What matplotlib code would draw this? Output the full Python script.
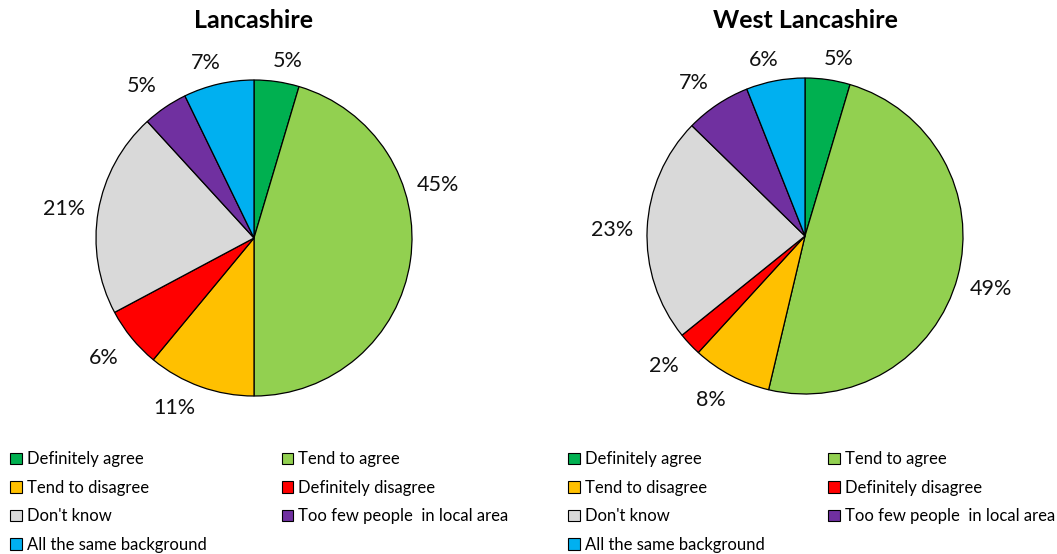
import numpy as np
import matplotlib.pyplot as plt
from matplotlib.patches import Patch

plt.rcParams['font.family'] = ['Lato', 'DejaVu Sans']

categories = ['Definitely agree', 'Tend to agree', 'Tend to disagree', 'Definitely disagree',
              "Don't know", 'Too few people  in local area', 'All the same background']
colors = ['#00B050', '#92D050', '#FFC000', '#FF0000', '#D9D9D9', '#7030A0', '#00B0F0']

lancs_values = [4.6, 45.4, 11.0, 6.2, 21.0, 4.6, 7.2]
west_values = [4.6, 49.1, 8.1, 2.4, 23.1, 6.7, 6.0]

titles = ['Lancashire', 'West Lancashire']

W, H = 1057, 554
fig = plt.figure(figsize=(W / 100, H / 100), dpi=100)


def pix_axes(cx, cy, r):
    # axes box in pixels -> figure fraction
    return fig.add_axes([(cx - r) / W, (H - cy - r) / H, 2 * r / W, 2 * r / H])


def draw_pie(ax, values, title, tx, moved=None):
    wedges, texts = ax.pie(values, colors=colors, startangle=90, counterclock=False,
                           labels=['%d%%' % round(v) for v in values],
                           wedgeprops=dict(edgecolor='black', linewidth=0.9),
                           textprops=dict(fontsize=15.5, color='#111111'))
    # place labels like excel: a bit further out at the sides
    for i, (w, t) in enumerate(zip(wedges, texts)):
        ang = np.deg2rad((w.theta1 + w.theta2) / 2)
        if moved and i in moved:
            ang = np.deg2rad(moved[i])
        c, s = np.cos(ang), np.sin(ang)
        d = 1.14 + 0.08 * abs(c)
        if abs(c) < 0.7:
            xoff = 0.045
        elif abs(c) < 0.9:
            xoff = 0.02
        else:
            xoff = 0.0
        yoff = -0.02 if s > -0.3 else 0.0
        t.set_position((d * c + np.sign(c) * xoff, d * s + yoff))
        t.set_ha('center')
        t.set_va('center')
    ax.set_xlim(-1, 1)
    ax.set_ylim(-1, 1)
    ax.set_aspect('equal')
    fig.text(tx / W, 1 - 20 / H, title, ha='center', va='center', fontsize=18, fontweight='bold')
    return wedges


ax1 = pix_axes(254, 238, 158)
draw_pie(ax1, lancs_values, titles[0], 254, moved={1: 17, 2: -113})
ax2 = pix_axes(805, 236, 158)
draw_pie(ax2, west_values, titles[1], 805)

# legend filled column-first, reorder so it reads row by row
order = [0, 2, 4, 6, 1, 3, 5]
handles = [Patch(facecolor=colors[i], edgecolor='black', linewidth=0.8) for i in order]
labels = [categories[i] for i in order]

for x0, cs in ((2, 4.5), (560, 3.8)):
    fig.legend(handles, labels, loc='upper left', bbox_to_anchor=(x0 / W, 1 - 443 / H),
               ncol=2, frameon=False, fontsize=12, handlelength=0.7, handleheight=0.7,
               handletextpad=0.3, labelspacing=0.75, columnspacing=cs, borderpad=0.0)

fig.savefig('out.png', dpi=100)
